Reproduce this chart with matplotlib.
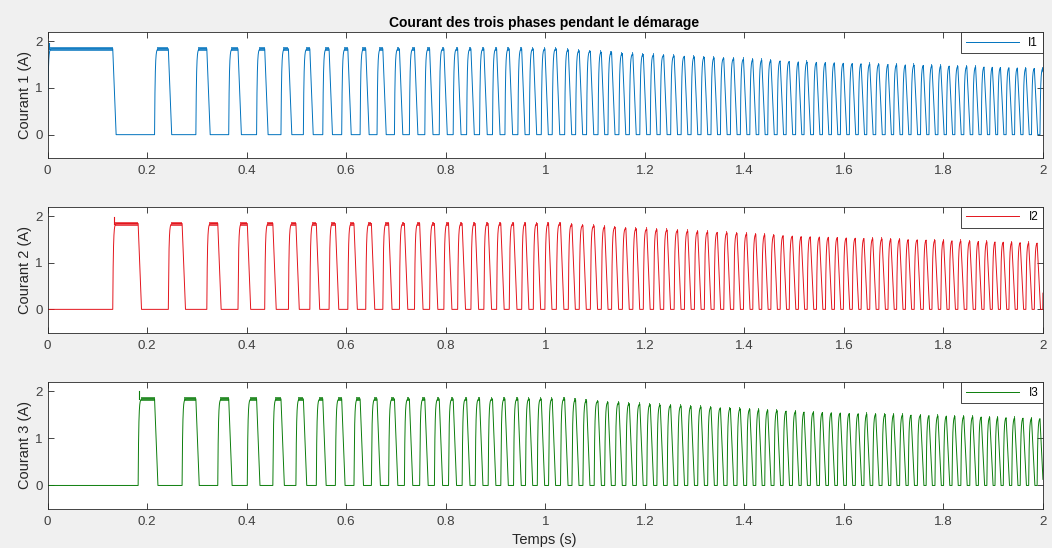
import numpy as np
import matplotlib
matplotlib.use("Agg")
import matplotlib.pyplot as plt

plt.rcParams['font.family'] = ['Liberation Sans', 'DejaVu Sans']

# ---------------- data ----------------
T_END = 2.0
# switch-on instants of phase 1 (start of each electrical period), s
phase1_on = [0.000, 0.215, 0.298, 0.364, 0.420, 0.469, 0.514, 0.553, 0.591, 0.628,
             0.662, 0.697, 0.727, 0.758, 0.787, 0.815, 0.842, 0.868, 0.894, 0.919,
             0.945, 0.968, 0.992,
             1.014, 1.039, 1.061, 1.083, 1.106, 1.126, 1.148, 1.169, 1.190, 1.211,
             1.231, 1.252, 1.273, 1.293, 1.313, 1.333, 1.352, 1.372, 1.392, 1.411,
             1.429, 1.447, 1.466, 1.484, 1.503,
             1.520, 1.539, 1.557, 1.575, 1.593, 1.611, 1.629, 1.646, 1.664, 1.683,
             1.700, 1.718, 1.735, 1.754, 1.771, 1.789, 1.806, 1.823, 1.841, 1.859,
             1.876, 1.893, 1.909, 1.926, 1.943, 1.960, 1.977, 1.994]
# first switch-on of phases 2 and 3 (first period is irregular), s
phase2_first_on = 0.131
phase3_first_on = 0.182
# peak current of each period, A
period_peak = [1.84] * 23 + [
    1.84, 1.82, 1.80, 1.79, 1.77, 1.76, 1.74, 1.73, 1.72, 1.71,
    1.70, 1.69, 1.68, 1.67, 1.66, 1.65, 1.64, 1.63, 1.62, 1.61,
    1.60, 1.59, 1.58, 1.57, 1.56,
    1.555, 1.55, 1.545, 1.54, 1.53, 1.525, 1.52, 1.515, 1.51, 1.505,
    1.50, 1.495, 1.49, 1.485, 1.48, 1.475, 1.47, 1.465, 1.46, 1.455,
    1.45, 1.445, 1.44, 1.435, 1.43, 1.425, 1.42, 1.42]
# overshoot at the very first switch-on of each phase, A
first_spike = [1.97, 1.98, 2.00]
ripple_below = 0.045
ripple_above = 0.035

series_names = ["I1", "I2", "I3"]
ylabels = ["Courant 1 (A)", "Courant 2 (A)", "Courant 3 (A)"]
title = "Courant des trois phases pendant le démarage"
xlabel = "Temps (s)"
xticks = [0, 0.2, 0.4, 0.6, 0.8, 1.0, 1.2, 1.4, 1.6, 1.8, 2.0]
yticks = [0, 1, 2]

# ---------------- styles ----------------
colors = ["#0072BD", "#E3141C", "#0B7D0B"]
TAU = 0.0012          # rise time constant (shape)
FALL = 0.0066         # fall duration (shape)


def pulses_of_phase(j):
    starts = list(phase1_on) + [2 * phase1_on[-1] - phase1_on[-2]]
    out = []
    for k in range(len(phase1_on)):
        s, e = starts[k], starts[k + 1]
        if k == 0:
            b = [s, phase2_first_on, phase3_first_on, e]
        else:
            P = e - s
            b = [s, s + P / 3, s + 2 * P / 3, e]
        out.append((b[j], b[j + 1], period_peak[k]))
    return out


def waveform(t, pulses):
    y = np.zeros_like(t)
    for on, off, pk in pulses:
        if on >= t[-1]:
            continue
        A = pk / (1 - np.exp(-(off - on) / TAU))
        m = (t >= on) & (t < off)
        y[m] = A * (1 - np.exp(-(t[m] - on) / TAU))
        m2 = (t >= off) & (t < off + FALL)
        y[m2] = np.maximum(y[m2], pk * (1 - (t[m2] - off) / FALL))
    return y


t = np.linspace(0, T_END, 40001)

fig = plt.figure(figsize=(10.52, 5.48), dpi=100, facecolor="#f0f0f0")
rects = [(0.0452, 0.7117, 0.9462, 0.2299),
         (0.0452, 0.3929, 0.9462, 0.2299),
         (0.0452, 0.0712, 0.9462, 0.2318)]

for j in range(3):
    ax = fig.add_axes(rects[j])
    ax.set_facecolor("white")
    pulses = pulses_of_phase(j)
    y = waveform(t, pulses)
    ax.plot(t, y, color=colors[j], lw=0.7, label=series_names[j])
    # chopping ripple band on plateaus
    for n, (on, off, pk) in enumerate(pulses):
        st = on + 4 * TAU
        if off - st > 0.0005 and st < T_END:
            ax.fill_between([st, min(off, T_END)], pk - ripple_below, pk + ripple_above,
                            color=colors[j], lw=0, alpha=0.75)
        if n == 0:
            ax.plot([on + 0.002, on + 0.002], [pk, first_spike[j]],
                    color=colors[j], lw=0.8)
    ax.set_xlim(0, T_END)
    ax.set_ylim(-0.5, 2.2)
    ax.set_xticks(xticks)
    ax.set_xticklabels(["%g" % v for v in xticks])
    ax.set_yticks(yticks)
    ax.tick_params(direction='in', top=True, right=True, length=4.5, width=0.6,
                   colors='#262626', labelcolor='#404040', labelsize=9.6)
    ax.tick_params(axis='x', pad=5)
    ax.tick_params(axis='y', pad=3.5)
    for sp in ax.spines.values():
        sp.set_color('#262626')
        sp.set_linewidth(0.6)
    ax.set_ylabel(ylabels[j], fontsize=10.5, color='#262626')
    ax.yaxis.set_label_coords(-0.0156, 0.5)
    leg = ax.legend(loc='upper right', borderaxespad=0, fancybox=False,
                    edgecolor='#262626', framealpha=1, fontsize=8.5,
                    handlelength=4.5, handletextpad=0.8, borderpad=0.4)
    leg.get_frame().set_linewidth(0.6)

fig.text(0.5176, 0.9516, title, ha='center', va='baseline', fontsize=10,
         fontweight='bold', color='#000000')
fig.text(0.5176, 0.0146, xlabel, ha='center', va='center', fontsize=10.5,
         color='#262626')

fig.savefig("out.png", dpi=100, facecolor=fig.get_facecolor())
